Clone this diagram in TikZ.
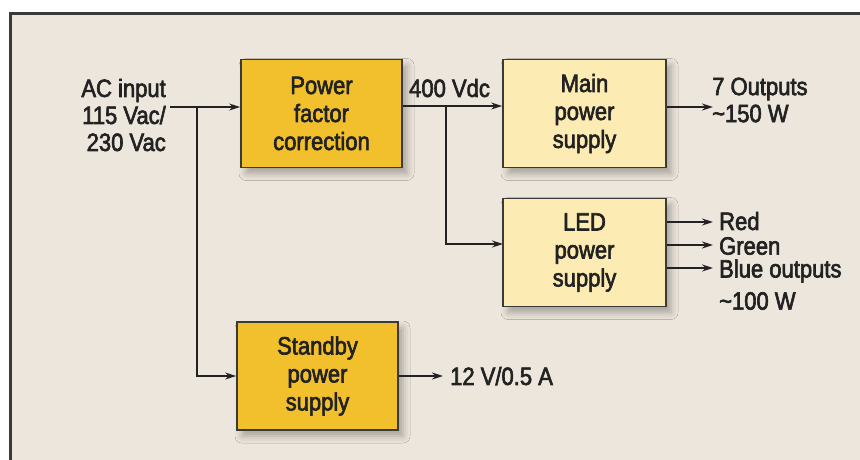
\documentclass[tikz,border=0pt]{standalone}
\usepackage{fontspec}
\setmainfont{Liberation Sans}[UprightFont=*, BoldFont=*, FakeStretch=0.88, FakeBold=2.5]
\usetikzlibrary{arrows.meta,shadows.blur}
\definecolor{bgc}{HTML}{EDE6DC}
\definecolor{framec}{HTML}{3A3A3A}
\definecolor{pfcc}{HTML}{F2C02C}
\definecolor{mainc}{HTML}{FCEBB2}
\definecolor{txtc}{HTML}{222222}
\begin{document}
\begin{tikzpicture}[x=1pt,y=-1pt,
  lbl/.style={font=\fontsize{25}{27}\bfseries, text=txtc, inner sep=0pt},
  blk/.style={draw=framec, line width=1.8pt, minimum width=161pt, minimum height=108pt,
    align=center, font=\fontsize{25}{28}\bfseries, text=txtc, inner sep=0pt,
    blur shadow={shadow xshift=5pt, shadow yshift=-6pt, shadow blur radius=7pt, shadow opacity=30}},
  dark/.style={blk, fill=pfcc},
  light/.style={blk, fill=mainc},
  wire/.style={draw=txtc, line width=1.3pt},
  fat/.style={draw=txtc, line width=2.6pt},
  arr/.style={-{Stealth[length=11pt,width=7pt]}}
]
\useasboundingbox (0,0) rectangle (860,459);
\fill[white] (0,0) rectangle (860,459);
\fill[bgc] (10,13) rectangle (870,470);
\draw[framec, line width=3pt] (10,470) -- (10,13) -- (870,13);

\node[dark]  (pfc)  at (321.5,113.5) {Power\\factor\\correction};
\node[light, minimum width=163pt] (main) at (584.5,113.5) {Main\\power\\supply};
\node[light, minimum width=163pt] (led)  at (584.5,252.5) {LED\\power\\supply};
\node[dark]  (sb)   at (317.5,376) {Standby\\power\\supply};

\node[lbl, anchor=east, align=right] (ac) at (166,115) {AC input\\115 Vac/\\230 Vac};
\node[lbl, anchor=west] (vdc) at (409,88) {400 Vdc};
\node[lbl, anchor=west, align=left] (out7) at (712,100) {7 Outputs\\\textasciitilde 150 W};
\node[lbl, anchor=west] (red) at (719,221) {Red};
\node[lbl, anchor=west] (green) at (719,246) {Green};
\node[lbl, anchor=west] (blue) at (719,271) {Blue outputs};
\node[lbl, anchor=west] (w100) at (719,301) {\textasciitilde 100 W};
\node[lbl, anchor=west] (v12) at (450,376) {12 V/0.5 A};

\coordinate (acend) at (170,107);
\coordinate (j1) at (197,107);
\coordinate (j2) at (446,106);
\coordinate (ledin) at (503,244);
\coordinate (o7) at (713,107);
\coordinate (ored) at (713,222);
\coordinate (ogreen) at (713,245);
\coordinate (oblue) at (713,268);
\coordinate (o12) at (443,376);

\draw[wire, arr] (acend) -- (acend -| pfc.west);
\draw[wire, arr] (j1) |- (sb.west);
\draw[fat] (pfc.east |- j2) -- (j2);
\draw[wire, arr] (j2) -- (j2 -| main.west);
\draw[fat] (j2) -- ++(0,22);
\draw[wire, arr] (j2) |- (ledin);
\draw[fat, arr] (main.east |- o7) -- (o7);
\draw[wire, arr] (led.east |- ored) -- (ored);
\draw[fat, arr] (led.east |- ogreen) -- (ogreen);
\draw[wire, arr] (led.east |- oblue) -- (oblue);
\draw[fat, arr] (sb.east |- o12) -- (o12);
\end{tikzpicture}
\end{document}
